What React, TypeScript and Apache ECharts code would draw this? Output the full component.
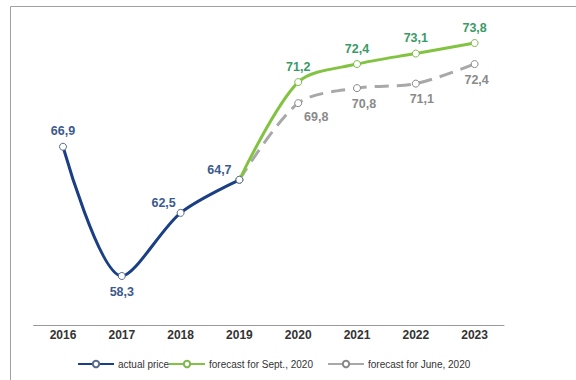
import React, { useEffect, useRef } from "react";
import * as echarts from "echarts";

const years = ["2016", "2017", "2018", "2019", "2020", "2021", "2022", "2023"];
const actualPrice = [66.9, 58.3, 62.5, 64.7, null, null, null, null];
const forecastSept = [null, null, null, 64.7, 71.2, 72.4, 73.1, 73.8];
const forecastJune = [null, null, null, 64.7, 69.8, 70.8, 71.1, 72.4];

const seriesNames = ["actual price", "forecast for Sept., 2020", "forecast for June, 2020"];

const fmt = (v: number) => v.toFixed(1).replace(".", ",");

export default function App() {
  const ref = useRef<HTMLDivElement>(null);
  useEffect(() => {
    const chart = echarts.init(ref.current!, null, { renderer: "svg" });
    const BLUE = "#1b3f85";
    const GREEN = "#82c341";
    const GRAY = "#a8a8a8";
    const labelFont = { fontFamily: "Liberation Sans, Arial, sans-serif", fontSize: 12.5, fontWeight: "bold" };

    const blueLabel = [
      { position: "top", offset: [0, 0] },
      { position: "bottom", offset: [0, 0] },
      { position: "top", offset: [-17, 6] },
      { position: "top", offset: [-20, 6] },
    ];
    const grayLabel: any = {
      4: { position: "bottom", offset: [18, -2] },
      5: { position: "bottom", offset: [7, 0] },
      6: { position: "bottom", offset: [6, 0] },
      7: { position: "bottom", offset: [2, 0] },
    };

    const blueData = actualPrice.map((v, i) =>
      v == null
        ? null
        : {
            value: v,
            label: { show: true, ...blueLabel[i] },
          }
    );
    const greenData = forecastSept.map((v, i) =>
      v == null ? null : { value: v, label: { show: i >= 4, position: "top" } }
    );
    const grayData = forecastJune.map((v, i) =>
      v == null ? null : { value: v, label: { show: i >= 4, ...(grayLabel[i] || {}) } }
    );

    const legendBase = {
      itemWidth: 36,
      itemHeight: 8,
      itemGap: 0,
      top: 359,
      textStyle: { fontFamily: "Liberation Sans, Arial, sans-serif", fontSize: 10, color: "#333", padding: [0, 0, 0, -1] },
      padding: 0,
    };

    chart.setOption({
      animation: false,
      backgroundColor: "#fff",
      grid: { left: 33.6, right: 72, top: 25, bottom: 54.4 },
      legend: [
        { ...legendBase, left: 77, data: [seriesNames[0]] },
        { ...legendBase, left: 168, data: [seriesNames[1]] },
        { ...legendBase, left: 327, data: [seriesNames[2]] },
      ],
      xAxis: {
        type: "category",
        data: years,
        boundaryGap: true,
        axisLine: { lineStyle: { color: "#999", width: 1 } },
        axisTick: { show: false },
        axisLabel: {
          margin: 3,
          color: "#333",
          fontWeight: "bold",
          fontSize: 12,
          fontFamily: "Liberation Sans, Arial, sans-serif",
        },
      },
      yAxis: {
        type: "value",
        min: 55,
        max: 75,
        show: false,
        splitLine: { show: false },
      },
      graphic: [
        { type: "line", shape: { x1: 10.5, y1: 6.5, x2: 576, y2: 6.5 }, style: { stroke: "#a0a0a0", lineWidth: 1 } },
        { type: "line", shape: { x1: 10.5, y1: 6.5, x2: 10.5, y2: 380 }, style: { stroke: "#a0a0a0", lineWidth: 1 } },
      ],
      series: [
        {
          name: seriesNames[2],
          type: "line",
          data: grayData,
          smooth: 0.3,
          z: 1,
          symbol: "circle",
          symbolSize: 7,
          connectNulls: false,
          lineStyle: { color: GRAY, width: 3, type: [14, 8] },
          itemStyle: { color: "#fff", borderColor: "#888", borderWidth: 1 },
          label: { ...labelFont, color: "#8a8a8a", formatter: (p: any) => fmt(p.value), distance: 5 },
        },
        {
          name: seriesNames[1],
          type: "line",
          data: greenData,
          smooth: 0.3,
          z: 2,
          symbol: "circle",
          symbolSize: 7,
          lineStyle: { color: GREEN, width: 3 },
          itemStyle: { color: "#fff", borderColor: "#7db84a", borderWidth: 1 },
          label: { ...labelFont, color: "#3a9a66", formatter: (p: any) => fmt(p.value), distance: 5 },
        },
        {
          name: seriesNames[0],
          type: "line",
          data: blueData,
          smooth: 0.3,
          z: 3,
          symbol: "circle",
          symbolSize: 7,
          lineStyle: { color: BLUE, width: 3 },
          itemStyle: { color: "#fff", borderColor: "#556a90", borderWidth: 1 },
          label: { ...labelFont, color: "#3c5a8e", formatter: (p: any) => fmt(p.value), distance: 5 },
        },
      ],
    } as any);
    return () => chart.dispose();
  }, []);
  return (
    <div
      ref={ref}
      style={{ position: "absolute", left: 0, top: 0, width: 576, height: 380 }}
    />
  );
}
